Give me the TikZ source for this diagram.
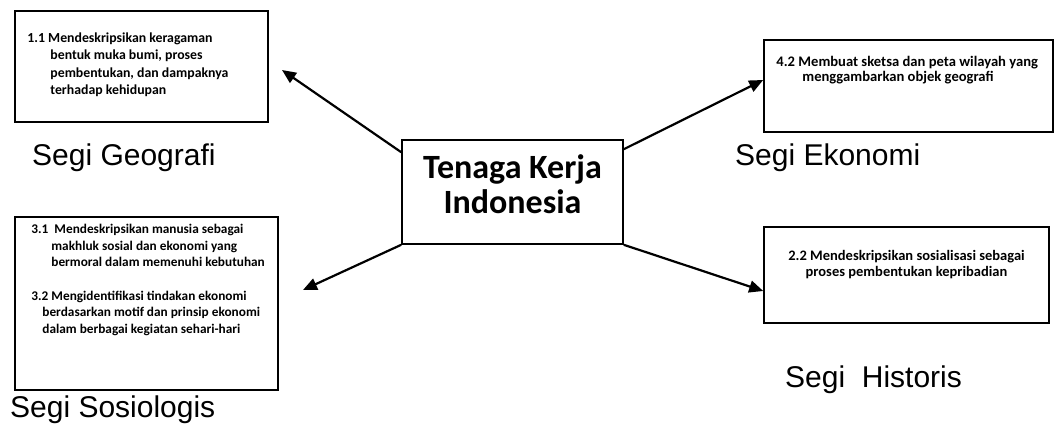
\documentclass[tikz,border=0pt]{standalone}
\usepackage{fontspec}
\setmainfont{Liberation Sans}
\newfontfamily\calfont{Carlito}
\usetikzlibrary{arrows.meta}

\tikzset{
	kotak/.style={draw, line width=1.6pt, inner sep=0pt},
	isi/.style={font=\calfont\bfseries\fontsize{13}{17}\selectfont, align=left, inner sep=0pt, anchor=north west},
	segi/.style={font=\fontsize{30}{36}\selectfont, anchor=base west, inner sep=0pt},
	panah/.style={line width=2.2pt, -{Triangle[length=14pt,width=12pt]}}
}

\begin{document}
\begin{tikzpicture}[x=1pt,y=-1pt]
	\useasboundingbox (0,0) rectangle (1055,428);
	% kotak tengah
	\node[kotak, minimum width=221, minimum height=104, align=center,
		font=\calfont\bfseries\fontsize{34}{35}\selectfont] (tk) at (512.5,192)
		{Tenaga Kerja\\Indonesia\rule[-16pt]{0pt}{0pt}};
	% kotak-kotak kompetensi
	\node[kotak, minimum width=253, minimum height=111] (geo) at (141.5,66.5) {};
	\node[kotak, minimum width=289, minimum height=92] (eko) at (908.5,86) {};
	\node[kotak, minimum width=263, minimum height=173] (sos) at (146.5,303.5) {};
	\node[kotak, minimum width=285, minimum height=96] (his) at (906.5,275) {};
	\node[isi, font=\calfont\bfseries\fontsize{13.8}{17.5}\selectfont] (geoTxt) at ([xshift=13pt,yshift=-22pt]geo.north west)
		{1.1 Mendeskripsikan keragaman\\
		\hspace*{23pt}bentuk muka bumi, proses\\
		\hspace*{23pt}pembentukan, dan dampaknya\\
		\hspace*{23pt}terhadap kehidupan};
	\node[isi, font=\calfont\bfseries\fontsize{14.6}{15}\selectfont] (ekoTxt) at ([xshift=13pt,yshift=-17pt]eko.north west)
		{4.2 Membuat sketsa dan peta wilayah yang\\
		\hspace*{26pt}menggambarkan objek geografi};
	\node[isi, font=\calfont\bfseries\fontsize{13.3}{16.5}\selectfont] (sosTxt) at ([xshift=17pt,yshift=-8pt]sos.north west)
		{3.1\ \ Mendeskripsikan manusia sebagai\\
		\hspace*{20pt}makhluk sosial dan ekonomi yang\\
		\hspace*{20pt}bermoral dalam memenuhi kebutuhan\\[17pt]
		3.2 Mengidentifikasi tindakan ekonomi\\
		\hspace*{11pt}berdasarkan motif dan prinsip ekonomi\\
		\hspace*{11pt}dalam berbagai kegiatan sehari-hari};
	\node[isi, anchor=north, align=center, font=\calfont\bfseries\fontsize{14.5}{16}\selectfont] (hisTxt) at ([yshift=-24pt]his.north)
		{2.2 Mendeskripsikan sosialisasi sebagai\\
		proses pembentukan kepribadian};
	% label segi
	\node[segi] (lGeo) at (32,165) {Segi Geografi};
	\node[segi] (lEko) at (735,165) {Segi Ekonomi};
	\node[segi] (lSos) at (10,417) {Segi Sosiologis};
	\node[segi] (lHis) at (785,387) {Segi\ \ Historis};
	% panah
	\coordinate (geoTip) at (282,70);
	\coordinate (sosTip) at (303,290);
	\draw[panah] ([yshift=-13pt]tk.north west) -- (geoTip);
	\draw[panah] ([yshift=-10pt]tk.north east) -- ([yshift=6pt]eko.west);
	\draw[panah] (tk.south west) -- (sosTip);
	\draw[panah] (tk.south east) -- ([yshift=-16pt]his.west);
\end{tikzpicture}
\end{document}
